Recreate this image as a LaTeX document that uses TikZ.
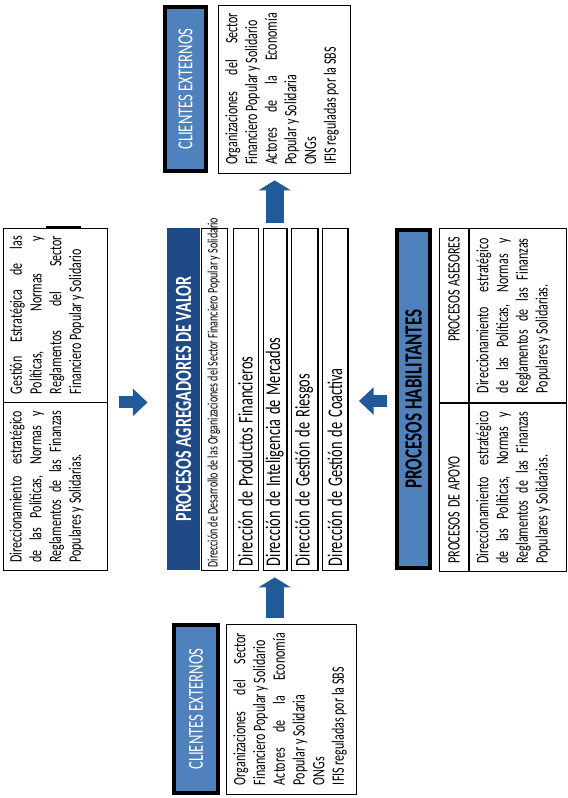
\documentclass[tikz,border=0pt]{standalone}
\usepackage{fontspec}
\setmainfont{Carlito}
\usepackage{tikz}
\usetikzlibrary{arrows.meta,calc}

\definecolor{azulosc}{HTML}{1F4A85}
\definecolor{azulcla}{HTML}{4F81BD}
\definecolor{azulfle}{HTML}{215A98}

\newcommand{\cuerpo}{\fontsize{9}{10.2}\selectfont}
% caja de texto justificado, pegado arriba (espacios sin encoger)
\newcommand{\caja}[3]{\parbox[c][#2][t]{#1}{\cuerpo\hyphenpenalty=10000\tolerance=10000\hbadness=10000
    \spaceskip=\fontdimen2\font plus 3\fontdimen2\font\relax #3}}

\begin{document}
\begin{tikzpicture}[
    x=0.75pt, y=-0.75pt,
    rot/.style={rotate=90, yscale=1.45},
    txtbox/.style={rot, draw, line width=0.6pt, inner ysep=3.5pt},
    subbox/.style={rot, draw, line width=0.6pt, font=\fontsize{10.8}{12}\selectfont, align=left, inner xsep=3pt, inner ysep=0pt, text width=250.5pt, minimum width=256.5pt, minimum height=12.9pt},
    celda/.style={rot, draw, line width=0.6pt, font=\cuerpo, minimum height=15pt, inner xsep=6pt, inner ysep=0pt},
    hdosc/.style={rot, fill=azulosc, text=white, font=\fontsize{12}{14}\selectfont\bfseries, inner sep=0pt, minimum width=256.5pt, minimum height=17.1pt},
    hdcla/.style={rot, fill=azulcla, draw=black, line width=3pt, inner sep=0pt},
    flechah/.style={azulfle, line width=9pt, -{Triangle[width=20pt, length=11pt]}},
    flechav/.style={azulfle, line width=13.5pt, -{Triangle[width=24pt, length=7.5pt]}}
]
\useasboundingbox (0,0) rectangle (567,798);

% izquierda
\node[txtbox, inner xsep=6pt] (gest) at (55,315) {\caja{118.5pt}{46.8pt}{Gestión Estratégica de las\linebreak Políticas, Normas y\linebreak Reglamentos del Sector\linebreak Financiero Popular y Solidario}};
\node[txtbox, anchor=east, inner xsep=6pt] (direc) at (gest.west) {\caja{114pt}{46.8pt}{Direccionamiento estratégico\linebreak de las Políticas, Normas y\linebreak Reglamentos de las Finanzas\linebreak Populares y Solidarias.}};
\draw[line width=2pt] ($(gest.north east)+(44,0)$) -- ++(35,0);

% centro
\node[hdosc] (agr) at (183.5,399) {PROCESOS AGREGADORES DE VALOR};
\node[rot, draw, line width=0.6pt, anchor=north, font=\fontsize{7.5}{9}\selectfont, inner xsep=2pt, inner ysep=0pt, minimum width=256.5pt, minimum height=13.4pt] (subt) at (agr.south) {\makebox[252.5pt][l]{Dirección de Desarrollo de las Organizaciones del Sector Financiero Popular y Solidario}};
\node[subbox, anchor=north] (prod) at ($(subt.south)+(5,0)$) {Dirección de Productos Financieros};
\node[subbox, anchor=north, minimum height=11.9pt] (intel) at ($(prod.south)+(4,0)$) {Dirección de Inteligencia de Mercados};
\node[subbox, anchor=north, minimum height=13.4pt] (ries) at ($(intel.south)+(4,0)$) {Dirección de Gestión de Riesgos};
\node[subbox, anchor=north] (coac) at ($(ries.south)+(4,0)$) {Dirección de Gestión de Coactiva};
\foreach \n in {prod,intel,ries,coac}
    \draw[line width=1.2pt] (\n.north west) -- (\n.south west) -- (\n.south east);

% clientes externos
\node[hdcla, text=white, font=\fontsize{11}{13}\selectfont, minimum width=123pt, minimum height=21.2pt] (clitophd) at (185.5,89) {CLIENTES EXTERNOS};
\node[txtbox, anchor=north, inner xsep=6pt] (clitop) at ($(clitophd.south)+(9,0)$) {\caja{114pt}{61.3pt}{Organizaciones del Sector\linebreak Financiero Popular y Solidario\par Actores de la Economía\linebreak Popular y Solidaria\par ONGs\par IFIS reguladas por la SBS}};
\node[hdcla, text=white, font=\fontsize{11}{13}\selectfont, minimum width=126pt, minimum height=22.8pt] (clibothd) at (196,709) {CLIENTES EXTERNOS};
\node[txtbox, anchor=north, inner xsep=6.75pt] (clibot) at ($(clibothd.south)+(5,0)$) {\caja{114pt}{60.2pt}{Organizaciones del Sector\linebreak Financiero Popular y Solidario\par Actores de la Economía\linebreak Popular y Solidaria\par ONGs\par IFIS reguladas por la SBS}};

% habilitantes
\node[hdcla, font=\fontsize{12.8}{15}\selectfont\bfseries, minimum width=253.5pt, minimum height=17.1pt] (hab) at (413.5,399) {PROCESOS HABILITANTES};
\node[celda, anchor=north west, minimum width=126pt, text width=114pt, align=left] (apoyohd) at ($(hab.south west)+(6,2)$) {PROCESOS DE APOYO};
\node[celda, anchor=west, minimum width=130.5pt, text width=118.5pt, align=right] (aseshd) at (apoyohd.east) {PROCESOS ASESORES};
\node[txtbox, anchor=north, inner xsep=6pt] (apoyobd) at (apoyohd.south) {\caja{114pt}{43.2pt}{Direccionamiento estratégico\linebreak de las Políticas, Normas y\linebreak Reglamentos de las Finanzas\linebreak Populares y Solidarias.}};
\node[txtbox, anchor=north, inner xsep=7.25pt] (asesbd) at (aseshd.south) {\caja{116pt}{43.2pt}{Direccionamiento estratégico\linebreak de las Políticas, Normas y\linebreak Reglamentos de las Finanzas\linebreak Populares y Solidarias.}};

% flechas
\draw[flechah] ($(gest.south west)+(11,0)$) -- ($(gest.south west -| agr.north)+(-19,0)$);
\draw[flechah] ($(hab.north)+(-7,2)$) -- ($(coac.south)+(11,2)$);
\draw[flechav] ($(intel.east)+(0,-5)$) -- ($(intel.east |- clitop.west)+(0,7)$);
\draw[flechav] ($(intel.west |- clibot.east)+(0,-6)$) -- ($(intel.west)+(0,7)$);
\end{tikzpicture}
\end{document}
